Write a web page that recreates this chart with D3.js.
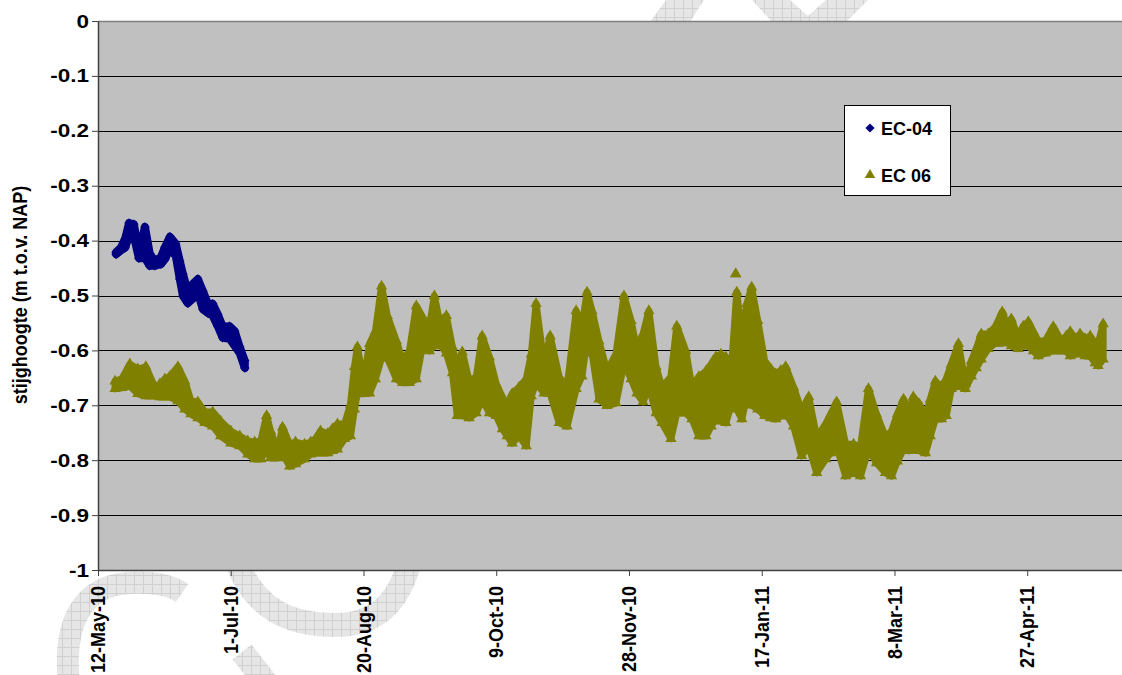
<!DOCTYPE html>
<html><head><meta charset="utf-8">
<script src="https://cdn.jsdelivr.net/npm/d3@7"></script>
<style>
body{margin:0;background:#fff}
svg{display:block}
text{font-family:"Liberation Sans",Arial,sans-serif;font-weight:bold;fill:#000}
</style>
</head><body>
<svg id="c" width="1122" height="675"></svg>
<script>
// ---------- data (days after 12-May-2010, levels in m t.o.v. NAP) ----------
const ec04Day  = [6.8, 8.6, 10.2, 11.7, 13.5, 15.4, 17.7, 19.5, 21.4, 23.7, 25.2, 27.1, 29.3, 30.8, 32.0, 33.8, 35.7, 37.6, 39.5, 41.4, 43.2, 45.1, 47.0, 49.6, 51.5, 53.4, 55.3];
const ec04High = [-0.421, -0.413, -0.397, -0.368, -0.370, -0.421, -0.375, -0.424, -0.437, -0.430, -0.412, -0.393, -0.406, -0.437, -0.461, -0.492, -0.479, -0.470, -0.492, -0.515, -0.515, -0.534, -0.557, -0.556, -0.565, -0.594, -0.619];
const ec04Low  = [-0.425, -0.418, -0.413, -0.392, -0.392, -0.432, -0.432, -0.446, -0.446, -0.443, -0.434, -0.415, -0.428, -0.470, -0.501, -0.514, -0.506, -0.495, -0.525, -0.532, -0.537, -0.556, -0.577, -0.579, -0.592, -0.605, -0.632];

const ec06Day = [6.4, 9.0, 12.0, 15.0, 18.0, 21.4, 23.3, 25.2, 27.1, 30.1, 32.7, 35.0, 37.6, 40.2, 43.2, 46.2, 50.0, 53.4, 56.4, 59.0,
  61.3, 63.5, 65.0, 67.7, 69.5, 72.2, 74.4, 77.8, 80.1, 82.0, 83.8, 86.5, 88.3, 90.2, 92.9, 95.1, 96.6, 97.7, 100.0, 102.3,
  104.5, 106.8, 109.0, 112.4, 114.7, 117.3, 119.9, 122.2, 124.8, 126.7, 128.6, 131.2, 133.5, 135.3, 137.2, 139.8, 142.5, 144.7, 147.4, 150.0,
  152.3, 154.1, 156.0, 158.6, 161.3, 163.2, 165.0, 168.0, 170.3, 173.7, 176.7, 180.1, 182.3, 184.2, 186.1, 188.7, 191.7, 195.1, 198.1, 200.8,
  203.0, 205.3, 207.5, 210.2, 212.4, 215.8, 218.0, 221.4, 223.7, 226.3, 229.0, 231.0, 232.7, 234.6, 236.5, 238.7, 240.2, 240.6, 242.5, 244.4,
  246.2, 248.5, 251.1, 253.4, 255.3, 257.1, 259.0, 262.0, 265.0, 267.7, 270.7, 274.1, 276.0, 278.2, 281.6, 284.6, 287.2, 290.2, 293.2, 296.6,
  298.9, 301.1, 303.4, 305.3, 307.1, 309.4, 311.7, 313.5, 315.4, 317.7, 319.5, 321.4, 324.1, 326.7, 329.0, 330.8, 332.7, 335.3, 338.0, 340.6,
  342.1, 344.0, 346.6, 348.5, 350.4, 352.3, 354.1, 356.8, 359.8, 362.8, 364.7, 366.2, 368.0, 369.9, 371.8, 373.7, 375.6, 376.7, 378.6];
const ec06High = [-0.656, -0.652, -0.625, -0.634, -0.630, -0.667, -0.661, -0.652, -0.647, -0.630, -0.656, -0.692, -0.694, -0.712, -0.712, -0.729, -0.747, -0.756, -0.765, -0.767,
  -0.765, -0.719, -0.747, -0.783, -0.740, -0.771, -0.767, -0.771, -0.767, -0.761, -0.747, -0.752, -0.743, -0.734, -0.734, -0.698, -0.630, -0.594, -0.656, -0.588,
  -0.565, -0.483, -0.537, -0.583, -0.619, -0.601, -0.519, -0.539, -0.557, -0.501, -0.546, -0.537, -0.594, -0.638, -0.603, -0.656, -0.648, -0.574, -0.612, -0.661,
  -0.685, -0.703, -0.679, -0.667, -0.652, -0.607, -0.515, -0.625, -0.574, -0.648, -0.667, -0.528, -0.557, -0.494, -0.528, -0.583, -0.638, -0.607, -0.501, -0.546,
  -0.601, -0.570, -0.528, -0.630, -0.667, -0.648, -0.556, -0.601, -0.667, -0.648, -0.638, -0.625, -0.612, -0.607, -0.612, -0.625, -0.461, -0.494, -0.576, -0.515,
  -0.485, -0.546, -0.619, -0.634, -0.643, -0.637, -0.630, -0.667, -0.710, -0.685, -0.758, -0.734, -0.716, -0.694, -0.771, -0.771, -0.776, -0.670, -0.716, -0.758,
  -0.747, -0.716, -0.689, -0.716, -0.685, -0.698, -0.721, -0.689, -0.656, -0.667, -0.652, -0.625, -0.588, -0.661, -0.619, -0.597, -0.570, -0.570, -0.557, -0.530,
  -0.552, -0.543, -0.576, -0.556, -0.548, -0.566, -0.583, -0.583, -0.557, -0.583, -0.574, -0.566, -0.579, -0.570, -0.579, -0.574, -0.588, -0.588, -0.552];
const ec06Low = [-0.670, -0.668, -0.665, -0.679, -0.683, -0.683, -0.685, -0.685, -0.685, -0.692, -0.707, -0.716, -0.723, -0.732, -0.738, -0.756, -0.769, -0.774, -0.789, -0.798,
  -0.798, -0.780, -0.796, -0.796, -0.787, -0.811, -0.807, -0.798, -0.789, -0.787, -0.787, -0.787, -0.783, -0.780, -0.761, -0.756, -0.707, -0.678, -0.679, -0.678,
  -0.652, -0.614, -0.614, -0.652, -0.659, -0.659, -0.652, -0.592, -0.601, -0.592, -0.587, -0.605, -0.641, -0.719, -0.719, -0.723, -0.714, -0.689, -0.714, -0.719,
  -0.743, -0.756, -0.769, -0.756, -0.774, -0.683, -0.659, -0.678, -0.678, -0.732, -0.738, -0.670, -0.647, -0.579, -0.605, -0.689, -0.701, -0.696, -0.623, -0.652,
  -0.678, -0.694, -0.665, -0.714, -0.732, -0.761, -0.714, -0.714, -0.725, -0.756, -0.756, -0.738, -0.725, -0.729, -0.732, -0.696, -0.461, -0.707, -0.725, -0.683,
  -0.700, -0.707, -0.719, -0.723, -0.725, -0.720, -0.714, -0.738, -0.792, -0.774, -0.823, -0.798, -0.787, -0.774, -0.829, -0.823, -0.829, -0.780, -0.805, -0.823,
  -0.829, -0.802, -0.780, -0.783, -0.780, -0.783, -0.787, -0.756, -0.725, -0.725, -0.719, -0.670, -0.665, -0.670, -0.647, -0.632, -0.616, -0.597, -0.587, -0.587,
  -0.579, -0.592, -0.597, -0.592, -0.592, -0.601, -0.610, -0.605, -0.601, -0.601, -0.601, -0.610, -0.607, -0.605, -0.610, -0.610, -0.623, -0.628, -0.616];

const xTickDates  = ["2010-05-12", "2010-07-01", "2010-08-20", "2010-10-09", "2010-11-28", "2011-01-17", "2011-03-08", "2011-04-27"];
const xTickLabels = ["12-May-10", "1-Jul-10", "20-Aug-10", "9-Oct-10", "28-Nov-10", "17-Jan-11", "8-Mar-11", "27-Apr-11"];
const yTicks = [0, -0.1, -0.2, -0.3, -0.4, -0.5, -0.6, -0.7, -0.8, -0.9, -1];
const seriesNames = ["EC-04", "EC 06"];
const seriesColors = ["#000080", "#808000"];

// ---------- layout ----------
const W = 1122, H = 675;
const L = 98, T = 21, R = 1122, B = 570;
const base = Date.UTC(2010, 4, 12);
const DAY = 864e5;
const toDate = d => new Date(base + d * DAY);
const parse = s => { const [a,b,c] = s.split("-").map(Number); return new Date(Date.UTC(a, b-1, c)); };

const x = d3.scaleUtc().domain([toDate(0), toDate(385.7)]).range([L, R]);
const y = d3.scaleLinear().domain([-1, 0]).range([B, T]);

const svg = d3.select("#c");

// ---------- background watermark (decorative) ----------
const defs = svg.append("defs");
const pat = defs.append("pattern").attr("id","hatch").attr("width",9).attr("height",9).attr("patternUnits","userSpaceOnUse");
pat.append("rect").attr("width",9).attr("height",9).attr("fill","#e6e6e6");
pat.append("path").attr("d","M0 8.5H9M8.5 0V9").attr("stroke","#d0d0d0").attr("stroke-width",1);
const wm = svg.append("g");
wm.append("path").attr("d","M70 690 C60 620 85 585 130 583 C158 582 172 586 182 593")
  .attr("fill","none").attr("stroke","url(#hatch)").attr("stroke-width",22);
wm.append("path").attr("d","M236 560 C255 610 290 625 335 625 C378 625 400 600 410 560")
  .attr("fill","none").attr("stroke","url(#hatch)").attr("stroke-width",24);
wm.append("path").attr("d","M242 652 L272 690")
  .attr("fill","none").attr("stroke","url(#hatch)").attr("stroke-width",24);
wm.append("path").attr("d","M650 22 L690 22 L704 0 L666 0 Z").attr("fill","url(#hatch)");
wm.append("path").attr("d","M752 0 L790 0 L808 16 L826 0 L868 0 L846 22 L772 22 Z").attr("fill","url(#hatch)");

// ---------- plot area ----------
svg.append("rect").attr("x",L).attr("y",T).attr("width",R-L).attr("height",B-T).attr("fill","#c0c0c0");

// gridlines
svg.append("g").selectAll("line").data(yTicks.filter(v => v < 0 && v > -1)).join("line")
  .attr("x1",L).attr("x2",R).attr("y1",d => Math.round(y(d))+0.5).attr("y2",d => Math.round(y(d))+0.5)
  .attr("stroke","#000").attr("stroke-width",1);
svg.append("line").attr("x1",L).attr("x2",R).attr("y1",T+0.5).attr("y2",T+0.5).attr("stroke","#808080").attr("stroke-width",1.5);

// ---------- series ----------
function drawSeries(days, highs, lows, color, symbolType, size, pad, rotate) {
  const g = svg.append("g");
  const rows = days.map((d,i) => ({d, hi: Math.max(highs[i], lows[i]), lo: Math.min(highs[i], lows[i])}));
  const band = d3.area()
    .x(r => x(toDate(r.d)))
    .y0(r => y(r.lo))
    .y1(r => y(r.hi));
  g.append("path").datum(rows.filter(r => r.hi !== r.lo))
    .attr("d", band)
    .attr("fill", color)
    .attr("stroke", color)
    .attr("stroke-width", pad)
    .attr("stroke-linejoin", "round");
  const sym = d3.symbol().type(symbolType).size(size)();
  const pts = rows.flatMap(r => [{d:r.d, v:r.hi}, {d:r.d, v:r.lo}]);
  g.selectAll("path.m").data(pts).join("path").attr("class","m")
    .attr("d", sym)
    .attr("transform", p => `translate(${x(toDate(p.d))},${y(p.v)})` + (rotate ? " rotate(45)" : ""))
    .attr("fill", color);
}
drawSeries(ec06Day, ec06High, ec06Low, seriesColors[1], d3.symbolTriangle, 55, 7, false);
drawSeries(ec04Day, ec04High, ec04Low, seriesColors[0], d3.symbolSquare, 45, 8, true);

// ---------- axes ----------
const fmtY = v => String(+v.toFixed(1));
const yAxis = svg.append("g").attr("transform",`translate(${L},0)`)
  .call(d3.axisLeft(y).tickValues(yTicks).tickSize(6).tickSizeOuter(0).tickFormat(fmtY));
yAxis.select(".domain").attr("stroke","#404040").attr("stroke-width",1.5);
yAxis.selectAll(".tick line").attr("stroke","#404040");
yAxis.selectAll(".tick text")
  .attr("x",0).attr("dy",0).attr("y",6)
  .attr("transform","translate(-9,0) scale(1.25,1)")
  .attr("font-size",18).attr("font-family",null).attr("fill","#000");

const xAxis = svg.append("g").attr("transform",`translate(0,${B})`)
  .call(d3.axisBottom(x).tickValues(xTickDates.map(parse)).tickSize(6).tickSizeOuter(0)
    .tickFormat((d,i) => xTickLabels[i]));
xAxis.select(".domain").attr("stroke","#404040").attr("stroke-width",1.5);
xAxis.selectAll(".tick line").attr("stroke","#404040");
xAxis.selectAll(".tick text")
  .attr("transform","rotate(-90) scale(1,1.12)")
  .attr("text-anchor","end")
  .attr("x",-16).attr("y",6).attr("dy",0)
  .attr("font-size",18).attr("font-family",null).attr("fill","#000");
svg.selectAll(".tick text").style("font-weight","bold");

// y title
svg.append("text").attr("transform","translate(27,295) rotate(-90) scale(1,1.12)").attr("text-anchor","middle")
  .attr("font-size",18).text("stijghoogte (m t.o.v. NAP)");

// ---------- legend ----------
const lg = svg.append("g");
lg.append("rect").attr("x",844.5).attr("y",105.5).attr("width",106).attr("height",90)
  .attr("fill","#fff").attr("stroke","#000").attr("stroke-width",1);
const legSym = [d3.symbol().type(d3.symbolSquare).size(42)(), d3.symbol().type(d3.symbolTriangle).size(48)()];
const legY = [128, 175];
seriesNames.forEach((n,i) => {
  lg.append("path").attr("d", legSym[i])
    .attr("transform", `translate(870,${legY[i]})` + (i===0 ? " rotate(45)" : ""))
    .attr("fill", seriesColors[i]);
  lg.append("text").attr("x",881).attr("y",legY[i]+6.5).attr("font-size",18).text(n);
});
</script>
</body></html>
